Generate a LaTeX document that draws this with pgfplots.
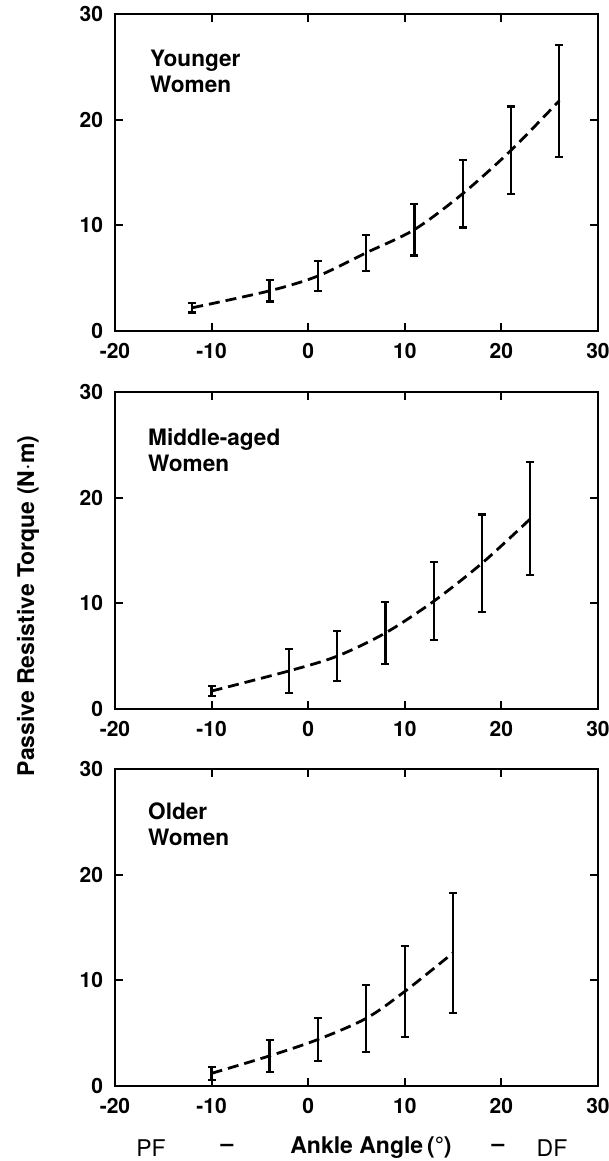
\documentclass[border=0pt]{standalone}
\usepackage{fontspec}
\setmainfont{TeX Gyre Heros}
\usepackage{pgfplots}
\pgfplotsset{compat=1.18}

\pgfplotsset{
  panel/.style={
    scale only axis, width=241.5pt, height=158.5pt,
    anchor=north west,
    xmin=-20, xmax=30, ymin=0, ymax=30,
    xtick={-20,-10,...,30}, ytick={0,10,20,30},
    tick align=inside, major tick length=4pt,
    xtick pos=both, ytick pos=both,
    axis line style={line width=1.2pt}, tick style={line width=1pt, black},
    ticklabel style={font=\bfseries\fontsize{10.5}{12}\selectfont},
    xticklabel style={yshift=-2.5pt},
    yticklabel style={xshift=-2.5pt},
    /pgf/number format/assume math mode=true,
    clip=false,
  },
  torque/.style={black, line width=1.4pt, dash pattern=on 5.5pt off 3pt, smooth, mark=none,
    error bars/.cd, y dir=both, y explicit,
    error bar style={solid, line width=1.1pt},
    error mark options={rotate=90, mark size=2pt, line width=1.1pt, solid}},
}
\tikzset{lab/.style={anchor=north west, align=left, inner sep=0pt,
    font=\bfseries\fontsize{11.3}{13}\selectfont}}

\begin{document}
\begin{tikzpicture}
\path[use as bounding box] (0,0) rectangle (304.5pt,-580.5pt);

% Younger women
\begin{axis}[panel, at={(57.5pt,-7pt)}]
\addplot[torque] coordinates {
  (-12,2.2) +- (0,0.45)
  (-4,3.8) +- (0,1.0)
  (1,5.2) +- (0,1.45)
  (6,7.4) +- (0,1.7)
  (11,9.6) +- (0,2.45)
  (16,13.0) +- (0,3.2)
  (21,17.1) +- (0,4.15)
  (26,21.8) +- (0,5.3)
};
\node[lab] at (axis cs:-16.4,26.6) {Younger\\Women};
\end{axis}

% Middle-aged women
\begin{axis}[panel, at={(57.5pt,-196pt)}]
\addplot[torque] coordinates {
  (-10,1.7) +- (0,0.5)
  (-2,3.6) +- (0,2.05)
  (3,5.0) +- (0,2.35)
  (8,7.2) +- (0,2.95)
  (13,10.2) +- (0,3.7)
  (18,13.8) +- (0,4.6)
  (23,18.0) +- (0,5.35)
};
\node[lab] at (axis cs:-16.6,26.6) {Middle-aged\\Women};
\end{axis}

% Older women
\begin{axis}[panel, at={(57.5pt,-384.5pt)}]
\addplot[torque] coordinates {
  (-10,1.2) +- (0,0.6)
  (-4,2.85) +- (0,1.5)
  (1,4.4) +- (0,2.0)
  (6,6.4) +- (0,3.15)
  (10,8.95) +- (0,4.3)
  (15,12.6) +- (0,5.7)
};
\node[lab] at (axis cs:-16.6,26.8) {Older\\Women};
\end{axis}

\node[rotate=90, font=\bfseries\fontsize{11.5}{13}\selectfont] at (14pt,-303pt) {Passive Resistive Torque (N$\cdot$m)};
\node[font=\fontsize{11.5}{13}\selectfont] at (75.5pt,-574pt) {PF};
\node[font=\bfseries\fontsize{11.5}{13}\selectfont] at (113.5pt,-574pt) {--};
\node[font=\bfseries\fontsize{11.5}{13}\selectfont] at (185.5pt,-574pt) {Ankle Angle\,(\textdegree)};
\node[font=\bfseries\fontsize{11.5}{13}\selectfont] at (249pt,-574pt) {--};
\node[font=\fontsize{11.5}{13}\selectfont] at (276pt,-574pt) {DF};
\end{tikzpicture}
\end{document}
